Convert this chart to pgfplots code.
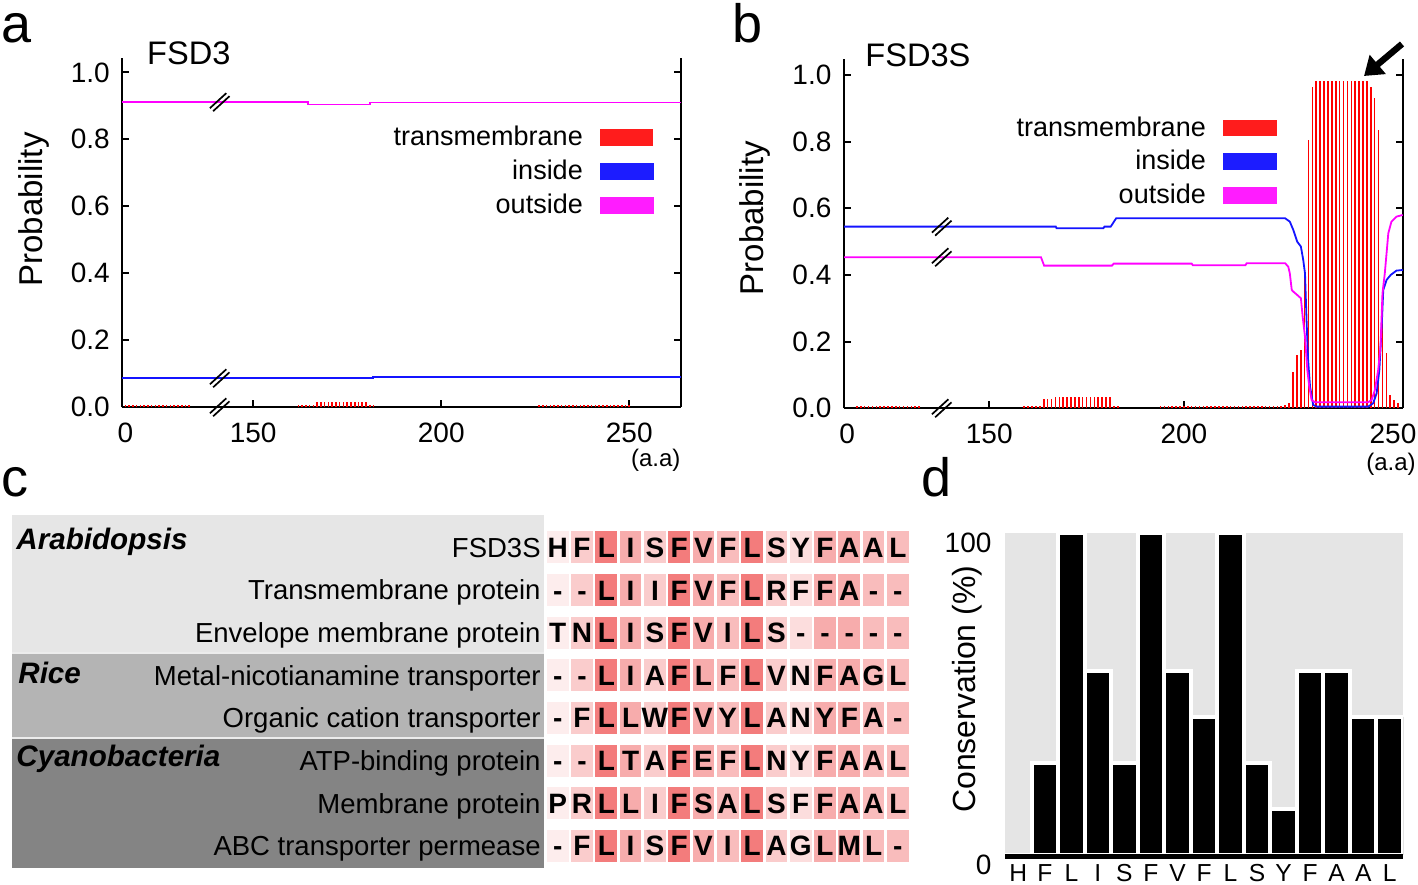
\documentclass[border=0pt]{standalone}
\usepackage{fontspec}
\setmainfont{Liberation Sans}
\usepackage{pgfplots}
\usepackage{pgfplotstable}
\pgfplotsset{compat=1.18}
\usetikzlibrary{arrows.meta}
\newcommand{\fs}[1]{\fontsize{#1}{#1}\selectfont}
\definecolor{tmred}{RGB}{255,0,0}
\definecolor{inblue}{RGB}{20,20,255}
\definecolor{outmag}{RGB}{255,0,255}
\definecolor{boxred}{RGB}{255,28,28}
\definecolor{boxblue}{RGB}{28,28,255}
\definecolor{boxmag}{RGB}{255,28,255}
\definecolor{gA}{RGB}{230,230,230}
\definecolor{gB}{RGB}{180,180,180}
\definecolor{gC}{RGB}{132,132,132}
\definecolor{bgd}{RGB}{229,229,229}
\pgfdeclareplotmark{cell}{\pgfpathrectangle{\pgfpoint{-5.425pt}{-8pt}}{\pgfpoint{10.85pt}{16pt}}\pgfusepathqfill}
\pgfplotsset{/pgf/number format/assume math mode=true,
 tmaxis/.style={
  scale only axis, clip=false,
  axis x line=bottom, axis y line=box,
  axis line style={-, line width=0.9pt},
  tick align=inside, major tick length=3.5pt,
  tick style={black, line width=0.9pt},
  ymin=0, ytick={0,0.2,0.4,0.6,0.8,1.0},
  yticklabel style={/pgf/number format/fixed,/pgf/number format/fixed zerofill,/pgf/number format/precision=1, font=\fs{14}, inner sep=0pt, anchor=east, xshift=-6.1pt},
  xticklabel style={font=\fs{14}, inner sep=0pt, anchor=north, yshift=-7.7pt},
  extra x tick style={major tick length=0pt},
  ylabel={Probability}, ylabel style={font=\fs{16.5}, anchor=center},
  legend plot pos=right, legend cell align=right,
  legend style={draw=none, fill=none, inner sep=0pt, row sep=5.6pt, column sep=8.5pt, font=\fs{13.5}, anchor=north east, nodes={inner sep=0pt}},
 }
}
\newcommand{\brk}[2]{%
 \draw[line width=0.85pt] ([xshift=-4.9pt,yshift=-3pt]axis cs:#1,#2) -- ([xshift=3.3pt,yshift=4.5pt]axis cs:#1,#2);
 \draw[line width=0.85pt] ([xshift=-3.3pt,yshift=-4.5pt]axis cs:#1,#2) -- ([xshift=4.9pt,yshift=3pt]axis cs:#1,#2);}
\newcommand{\rl}[2]{\node[anchor=base east, inner sep=0pt, font=\fs{13.75}, yshift=-4.92pt] at (axis cs:0.3128,#1) {#2};}
\pgfplotstableread{
x y c l
1 1 0 H
2 1 28.6 F
3 1 100 L
4 1 57.1 I
5 1 28.6 S
6 1 100 F
7 1 57.1 V
8 1 42.9 F
9 1 100 L
10 1 28.6 S
11 1 14.3 Y
12 1 57.1 F
13 1 57.1 A
14 1 42.9 A
15 1 42.9 L
1 2 0 -
2 2 28.6 -
3 2 100 L
4 2 57.1 I
5 2 28.6 I
6 2 100 F
7 2 57.1 V
8 2 42.9 F
9 2 100 L
10 2 28.6 R
11 2 14.3 F
12 2 57.1 F
13 2 57.1 A
14 2 42.9 -
15 2 42.9 -
1 3 0 T
2 3 28.6 N
3 3 100 L
4 3 57.1 I
5 3 28.6 S
6 3 100 F
7 3 57.1 V
8 3 42.9 I
9 3 100 L
10 3 28.6 S
11 3 14.3 -
12 3 57.1 -
13 3 57.1 -
14 3 42.9 -
15 3 42.9 -
1 4 0 -
2 4 28.6 -
3 4 100 L
4 4 57.1 I
5 4 28.6 A
6 4 100 F
7 4 57.1 L
8 4 42.9 F
9 4 100 L
10 4 28.6 V
11 4 14.3 N
12 4 57.1 F
13 4 57.1 A
14 4 42.9 G
15 4 42.9 L
1 5 0 -
2 5 28.6 F
3 5 100 L
4 5 57.1 L
5 5 28.6 W
6 5 100 F
7 5 57.1 V
8 5 42.9 Y
9 5 100 L
10 5 28.6 A
11 5 14.3 N
12 5 57.1 Y
13 5 57.1 F
14 5 42.9 A
15 5 42.9 -
1 6 0 -
2 6 28.6 -
3 6 100 L
4 6 57.1 T
5 6 28.6 A
6 6 100 F
7 6 57.1 E
8 6 42.9 F
9 6 100 L
10 6 28.6 N
11 6 14.3 Y
12 6 57.1 F
13 6 57.1 A
14 6 42.9 A
15 6 42.9 L
1 7 0 P
2 7 28.6 R
3 7 100 L
4 7 57.1 L
5 7 28.6 I
6 7 100 F
7 7 57.1 S
8 7 42.9 A
9 7 100 L
10 7 28.6 S
11 7 14.3 F
12 7 57.1 F
13 7 57.1 A
14 7 42.9 A
15 7 42.9 L
1 8 0 -
2 8 28.6 F
3 8 100 L
4 8 57.1 I
5 8 28.6 S
6 8 100 F
7 8 57.1 V
8 8 42.9 I
9 8 100 L
10 8 28.6 A
11 8 14.3 G
12 8 57.1 L
13 8 57.1 M
14 8 42.9 L
15 8 42.9 -
}\aln
\begin{document}
\begin{tikzpicture}
\useasboundingbox (0,0) rectangle (709pt,442pt);
% ---------------- panel a
\begin{axis}[tmaxis, at={(61.15pt,238.35pt)}, anchor=south west,
  width=279.25pt, height=174.5pt,
  xmin=115.2, xmax=263.7, ymax=1.042,
  xtick={150,200,250}, extra x ticks={116}, extra x tick labels={0},
  ylabel style={at={(axis description cs:-0.159,0.567)}},
  legend style={at={(0.952,0.806)}}]
\addplot[ycomb, tmred, line width=0.8pt, mark=none,
  legend image code/.code={\fill[boxred] (0pt,-3.75pt) rectangle (26pt,3.75pt);}]
 coordinates {(116,0.008)(117,0.008)(118,0.008)(119,0.008)(120,0.008)(121,0.008)(122,0.008)(123,0.008)(124,0.008)(125,0.008)(126,0.008)(127,0.008)(128,0.008)(129,0.008)(130,0.008)(131,0.008)(132,0.008)(133,0.008)
 (162,0.007)(163,0.007)(164,0.007)(165,0.007)(166,0.007)(167,0.016)(168,0.016)(169,0.016)(170,0.016)(171,0.016)(172,0.016)(173,0.016)(174,0.016)(175,0.016)(176,0.016)(177,0.016)(178,0.016)(179,0.016)(180,0.016)(181,0.007)(182,0.007)
 (226,0.008)(227,0.008)(228,0.008)(229,0.008)(230,0.008)(231,0.008)(232,0.008)(233,0.008)(234,0.008)(235,0.008)(236,0.008)(237,0.008)(238,0.008)(239,0.008)(240,0.008)(241,0.008)(242,0.008)(243,0.008)(244,0.008)(245,0.008)(246,0.008)(247,0.008)(248,0.008)(249,0.008)(250,0.008)};
\addlegendentry{transmembrane}
\addplot[inblue, line width=0.9pt, mark=none,
  legend image code/.code={\fill[boxblue] (0pt,-3.75pt) rectangle (26pt,3.75pt);}]
 coordinates {(115.2,0.0866)(181.9,0.0866)(181.9,0.0914)(263.7,0.0914)};
\addlegendentry{inside}
\addplot[outmag, line width=0.9pt, mark=none,
  legend image code/.code={\fill[boxmag] (0pt,-3.75pt) rectangle (26pt,3.75pt);}]
 coordinates {(115.2,0.911)(164.6,0.911)(164.6,0.904)(181,0.904)(181,0.910)(263.7,0.910)};
\addlegendentry{outside}
\brk{141.1}{0.911}
\brk{141.1}{0.0866}
\brk{141.1}{0}
\end{axis}
% ---------------- panel b
\begin{axis}[tmaxis, at={(422pt,237.85pt)}, anchor=south west,
  width=279.35pt, height=174.5pt,
  xmin=112.7, xmax=256.2, ymax=1.047,
  xtick={150,200}, extra x ticks={113.5,253.7}, extra x tick labels={0,250},
  ylabel style={at={(axis description cs:-0.160,0.545)}},
  legend style={at={(0.775,0.837)}}]
\addplot[ycomb, tmred, line width=0.8pt, mark=none,
  legend image code/.code={\fill[boxred] (0pt,-3.75pt) rectangle (26pt,3.75pt);}]
 coordinates {(116,0.008)(117,0.008)(118,0.008)(119,0.008)(120,0.008)(121,0.008)(122,0.008)(123,0.008)(124,0.008)(125,0.008)(126,0.008)(127,0.008)(128,0.008)(129,0.008)(130,0.008)(131,0.008)(132,0.008)
 (159,0.008)(160,0.008)(161,0.008)(162,0.008)(163,0.008)(164,0.028)(165,0.028)(166,0.028)(167,0.033)(168,0.033)(169,0.033)(170,0.033)(171,0.033)(172,0.033)(173,0.033)(174,0.033)(175,0.033)(176,0.033)(177,0.033)(178,0.033)(179,0.033)(180,0.033)(181,0.033)(182,0.008)(183,0.008)
 (194,0.008)(195,0.008)(196,0.008)(197,0.008)(198,0.008)(199,0.008)(200,0.008)(201,0.008)(202,0.008)(203,0.008)(204,0.008)(205,0.008)(206,0.008)(207,0.008)(208,0.008)(209,0.008)(210,0.008)(211,0.008)(212,0.008)(213,0.008)(214,0.008)(215,0.008)(216,0.008)(217,0.008)(218,0.008)(219,0.008)(220,0.008)(221,0.008)(222,0.008)(223,0.008)(224,0.008)(225,0.008)(226,0.01)
 (227,0.015)(228,0.11)(229,0.16)(230,0.175)(231,0.42)(232,0.805)(233,0.965)(234,0.983)(235,0.983)(236,0.983)(237,0.983)(238,0.983)(239,0.983)(240,0.983)(241,0.983)(242,0.983)(243,0.983)(244,0.983)(245,0.983)(246,0.983)(247,0.983)(248,0.965)(249,0.93)(250,0.835)(251,0.28)(252,0.165)(253,0.04)(254,0.025)(255,0.015)};
\addlegendentry{transmembrane}
\addplot[inblue, line width=0.9pt, mark=none,
  legend image code/.code={\fill[boxblue] (0pt,-3.75pt) rectangle (26pt,3.75pt);}]
 coordinates {(112.7,0.545)(167.1,0.545)(167.3,0.540)(179.3,0.540)(179.6,0.545)(181.2,0.545)(182.6,0.570)(226,0.570)(227.2,0.56)(228.1,0.535)(229.1,0.50)(230.05,0.485)(230.65,0.445)(231.1,0.405)(231.5,0.265)(231.9,0.145)(232.4,0.065)(233.2,0.01)(234.1,0.005)(247.3,0.005)(248.6,0.015)(249.5,0.045)(250.2,0.115)(250.8,0.245)(251.2,0.355)(252.05,0.385)(253.1,0.40)(254.6,0.413)(256.2,0.415)};
\addlegendentry{inside}
\addplot[outmag, line width=0.9pt, mark=none,
  legend image code/.code={\fill[boxmag] (0pt,-3.75pt) rectangle (26pt,3.75pt);}]
 coordinates {(112.7,0.453)(163.3,0.453)(164.1,0.428)(181.5,0.428)(182,0.434)(202,0.434)(202.3,0.429)(215.8,0.429)(216.1,0.435)(226,0.435)(226.8,0.425)(227.2,0.405)(227.7,0.355)(228.1,0.35)(229.1,0.34)(230.05,0.33)(230.5,0.275)(231.1,0.215)(231.7,0.115)(232.2,0.065)(232.8,0.025)(233.7,0.018)(247.3,0.018)(248.2,0.025)(249.05,0.055)(249.9,0.115)(250.5,0.185)(251.0,0.345)(251.6,0.405)(252.5,0.525)(253.3,0.56)(254.6,0.575)(256.2,0.58)};
\addlegendentry{outside}
\brk{137.8}{0.545}
\brk{137.8}{0.453}
\brk{137.8}{0}
\end{axis}
% ---------------- panel c
\begin{axis}[at={(272.775pt,8.35pt)}, anchor=south west, scale only axis, clip=false,
  width=182.25pt, height=170.65pt,
  xmin=0.5, xmax=15.5, ymin=0.5, ymax=8.5, y dir=reverse,
  axis line style={draw=none}, major tick length=0pt, xtick=\empty, ytick=\empty,
  colormap={pk}{rgb255=(253,237,237) rgb255=(243,124,124)},
  point meta min=0, point meta max=100]
\fill[gA] (axis cs:-21.457,0.242) rectangle (axis cs:0.436,3.48);
\fill[gB] (axis cs:-21.457,3.48) rectangle (axis cs:0.436,5.47);
\fill[gC] (axis cs:-21.457,5.47) rectangle (axis cs:0.436,8.515);
\draw[white!85!gray, line width=0.8pt] (axis cs:-21.457,3.48) -- (axis cs:0.436,3.48);
\draw[white!85!gray, line width=0.8pt] (axis cs:-21.457,5.47) -- (axis cs:0.436,5.47);
\node[anchor=base west, inner sep=0pt, font=\bfseries\itshape\fs{14.8}] at (axis cs:-21.29,1.04) {Arabidopsis};
\node[anchor=base west, inner sep=0pt, font=\bfseries\itshape\fs{14.8}] at (axis cs:-21.21,4.186) {Rice};
\node[anchor=base west, inner sep=0pt, font=\bfseries\itshape\fs{14.8}] at (axis cs:-21.29,6.148) {Cyanobacteria};
\rl{1}{FSD3S}
\rl{2}{Transmembrane protein}
\rl{3}{Envelope membrane protein}
\rl{4}{Metal-nicotianamine transporter}
\rl{5}{Organic cation transporter}
\rl{6}{ATP-binding protein}
\rl{7}{Membrane protein}
\rl{8}{ABC transporter permease}
\addplot[scatter, only marks, mark=cell, point meta=explicit,
  scatter/use mapped color={draw=mapped color, fill=mapped color}]
  table[x=x, y=y, meta=c] {\aln};
\addplot[draw=none, mark=none, nodes near coords, point meta=explicit symbolic,
  nodes near coords style={anchor=base, inner sep=0pt, yshift=-5pt, font=\bfseries\fs{14}, text=black}]
  table[x=x, y=y, meta=l] {\aln};
\end{axis}
% ---------------- panel d
\begin{axis}[at={(502.5pt,12.35pt)}, anchor=south west, scale only axis,
  width=199pt, height=163pt,
  xmin=0.5, xmax=15.5, ymin=-1.34, ymax=100,
  axis background/.style={fill=bgd},
  axis line style={draw=none}, major tick length=0pt,
  ybar, bar width=1,
  ytick={0,100}, xtick={1,...,15},
  xticklabels={H,F,L,I,S,F,V,F,L,S,Y,F,A,A,L},
  yticklabel style={font=\fs{14}, inner sep=0pt, anchor=east, xshift=-6.6pt, yshift=-5pt},
  xticklabel style={font=\fs{12.3}, inner sep=0pt, anchor=north, yshift=-2.4pt},
  ylabel={Conservation (\%)}, ylabel style={font=\fs{16}, anchor=center, at={(axis description cs:-0.0955,0.522)}}]
\addplot[fill=black, draw=white, line width=2pt] coordinates {(1,0)(2,28.6)(3,100)(4,57.1)(5,28.6)(6,100)(7,57.1)(8,42.9)(9,100)(10,28.6)(11,14.3)(12,57.1)(13,57.1)(14,42.9)(15,42.9)};
\fill[black] (axis cs:0.5,-1.34) rectangle (axis cs:15.5,0.3);
\end{axis}
% ---------------- annotations
\node[anchor=base west, inner sep=0pt, font=\fs{27}] at (0.5pt,420.5pt) {a};
\node[anchor=base west, inner sep=0pt, font=\fs{27}] at (366pt,420.5pt) {b};
\node[anchor=base west, inner sep=0pt, font=\fs{27}] at (0.5pt,193.5pt) {c};
\node[anchor=base west, inner sep=0pt, font=\fs{27}] at (460.5pt,193.5pt) {d};
\node[anchor=base west, inner sep=0pt, font=\fs{16.3}] at (73.35pt,409.5pt) {FSD3};
\node[anchor=base west, inner sep=0pt, font=\fs{16.3}] at (432.5pt,408.65pt) {FSD3S};
\node[anchor=base east, inner sep=0pt, font=\fs{12}] at (340.4pt,208.5pt) {(a.a)};
\node[anchor=base east, inner sep=0pt, font=\fs{12}] at (708pt,206.5pt) {(a.a)};
\draw[line width=3.2pt, -{Triangle[length=9pt,width=12pt]}] (701pt,420pt) -- (682pt,404pt);
\end{tikzpicture}
\end{document}
